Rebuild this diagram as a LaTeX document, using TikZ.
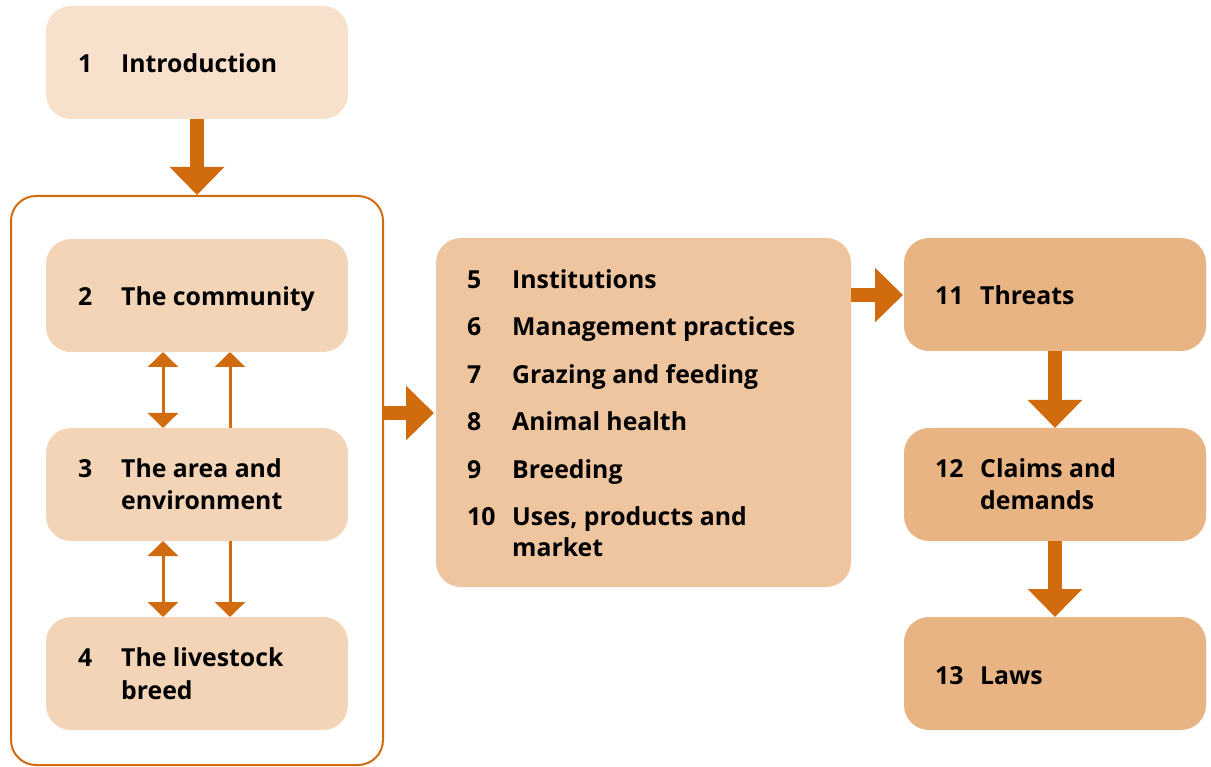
\documentclass[tikz,border=0pt]{standalone}
\usepackage{fontspec}
\setmainfont{Open Sans}
\usetikzlibrary{arrows.meta}
\definecolor{introC}{HTML}{F7E1CC}
\definecolor{leftC}{HTML}{F3D4B6}
\definecolor{midC}{HTML}{EFC59F}
\definecolor{rightC}{HTML}{E9B483}
\definecolor{arrC}{HTML}{D06B0E}
\begin{document}
\begin{tikzpicture}[x=1pt,y=-1pt,
  box/.style={rounded corners=25pt,draw=none},
  txt/.style={anchor=base west,inner sep=0pt,font=\bfseries\fontsize{24.8}{24.8}\selectfont},
  fat/.style={draw=arrC,line width=14pt,-{Triangle[width=53pt,length=28pt]}},
  thin/.style={draw=arrC,line width=3pt,-{Triangle[width=30pt,length=15pt]}},
  thinboth/.style={draw=arrC,line width=3pt,{Triangle[width=30pt,length=15pt]}-{Triangle[width=30pt,length=15pt]}}
]
\useasboundingbox (0,0) rectangle (1211,767);
% boxes
\path[box,fill=introC] (46,6) rectangle (348,119);
\coordinate (b1s) at (197,119);
\draw[arrC,line width=2pt,rounded corners=25pt] (11,196) rectangle (383,765);
\coordinate (frn) at (197,195);
\coordinate (fre) at (384,413);
\path[box,fill=leftC] (46,239) rectangle (348,352);
\path[box,fill=leftC] (46,428) rectangle (348,541);
\path[box,fill=leftC] (46,617) rectangle (348,730);
\path[box,fill=midC] (436,238) rectangle (851,587);
\path[box,fill=rightC] (904,238) rectangle (1206,351);
\path[box,fill=rightC] (904,428) rectangle (1206,541);
\path[box,fill=rightC] (904,617) rectangle (1206,730);
% named anchor coordinates
\coordinate (mw) at (434,413);
\coordinate (me) at (851,295);
\coordinate (r1w) at (903,295);
\coordinate (r1s) at (1055,351);
\coordinate (r2n) at (1055,428);
\coordinate (r2s) at (1055,541);
\coordinate (r3n) at (1055,617);
\coordinate (l2a) at (163,352);
\coordinate (l3a) at (163,428);
\coordinate (l2b) at (230,352);
\coordinate (l3b) at (230,428);
\coordinate (l3c) at (163,541);
\coordinate (l4c) at (163,617);
\coordinate (l3d) at (230,541);
\coordinate (l4d) at (230,617);
% text
\node[txt] (n1) at (78,73) {1};
\node[txt] (t1) at (121,73) {Introduction};
\node[txt] (n2) at (78,306) {2};
\node[txt] (t2) at (121,306) {The community};
\node[txt] (n3) at (78,477) {3};
\node[txt] (t3) at (121,477) {The area and};
\node[txt] (t3b) at (121,509) {environment};
\node[txt] (n4) at (78,666) {4};
\node[txt] (t4) at (121,666) {The livestock};
\node[txt] (t4b) at (121,699) {breed};
\node[txt] (n5) at (467,289) {5};
\node[txt] (t5) at (512,289) {Institutions};
\node[txt] (n6) at (467,336) {6};
\node[txt] (t6) at (512,336) {Management practices};
\node[txt] (n7) at (467,384) {7};
\node[txt] (t7) at (512,384) {Grazing and feeding};
\node[txt] (n8) at (467,431) {8};
\node[txt] (t8) at (512,431) {Animal health};
\node[txt] (n9) at (467,478) {9};
\node[txt] (t9) at (512,478) {Breeding};
\node[txt] (n10) at (467,525) {10};
\node[txt] (t10) at (512,525) {Uses, products and};
\node[txt] (t10b) at (512,556) {market};
\node[txt] (n11) at (935,305) {11};
\node[txt] (t11) at (980,305) {Threats};
\node[txt] (n12) at (935,477) {12};
\node[txt] (t12) at (980,477) {Claims and};
\node[txt] (t12b) at (980,509) {demands};
\node[txt] (n13) at (935,684) {13};
\node[txt] (t13) at (980,684) {Laws};
% arrows
\draw[fat] (b1s) -- (frn);
\draw[fat] (fre) -- (mw);
\draw[fat] (me) -- (r1w);
\draw[fat] (r1s) -- (r2n);
\draw[fat] (r2s) -- (r3n);
\draw[thinboth] (l2a) -- (l3a);
\draw[thin] (l3b) -- (l2b);
\draw[thinboth] (l3c) -- (l4c);
\draw[thin] (l3d) -- (l4d);
\end{tikzpicture}
\end{document}
